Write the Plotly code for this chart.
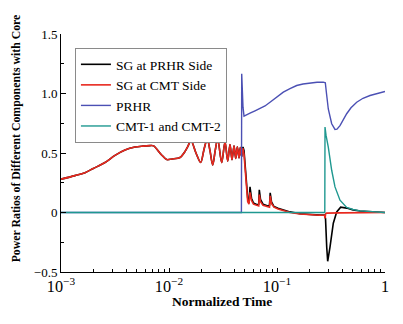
import plotly.graph_objects as go

# ---- data ----
# shared SG curve (both SG traces coincide) up to x ~ 0.048
sg_early_x = [0.001, 0.001348, 0.001668, 0.00199, 0.002556, 0.003162, 0.003914, 0.004844,
              0.005744, 0.00667, 0.007203, 0.008431, 0.009522, 0.01066, 0.01265, 0.01377,
              0.01484, 0.01599, 0.01778, 0.01965, 0.02109, 0.02262, 0.02396, 0.02538,
              0.02678, 0.02824, 0.03076, 0.03300, 0.03496, 0.03671, 0.03831, 0.04000,
              0.04147, 0.04291, 0.04449, 0.04574, 0.04712, 0.04814]
sg_early_y = [0.28, 0.31, 0.335, 0.37, 0.42, 0.48, 0.525, 0.55,
              0.558, 0.562, 0.56, 0.49, 0.445, 0.45, 0.462, 0.50,
              0.55, 0.603, 0.50, 0.42, 0.53, 0.62, 0.52, 0.40,
              0.52, 0.62, 0.42, 0.595, 0.432, 0.572, 0.443, 0.56,
              0.454, 0.552, 0.458, 0.545, 0.468, 0.54]

# SG at PRHR side after x ~ 0.048
prhr_sg_x = [0.04814, 0.04845, 0.04950, 0.05086, 0.05219, 0.05354, 0.05504, 0.05623,
             0.05806, 0.06059, 0.06529, 0.06771, 0.06857, 0.07035, 0.07420, 0.08254,
             0.08523, 0.08650, 0.08894, 0.09380, 0.1022, 0.1144, 0.1319, 0.1633,
             0.2021, 0.2501, 0.2754, 0.2813, 0.2886, 0.2947, 0.3095, 0.3321, 0.3570,
             0.3889, 0.4418, 0.5054, 0.5867, 0.7265, 1.0]
prhr_sg_y = [0.54, 0.55, 0.52, 0.40, 0.24, 0.12, 0.08, 0.216,
             0.12, 0.08, 0.065, 0.07, 0.19, 0.11, 0.07, 0.055,
             0.06, 0.166, 0.09, 0.05, 0.035, 0.02, 0.005, -0.01,
             -0.018, -0.022, -0.022, -0.05, -0.29, -0.41, -0.29, -0.09, 0.005,
             0.045, 0.037, 0.022, 0.012, 0.005, 0.0]

# SG at CMT side after x ~ 0.048
cmt_sg_x = [0.04814, 0.04950, 0.05086, 0.05219, 0.05354, 0.05504, 0.05623, 0.05806,
            0.06059, 0.06771, 0.06857, 0.07035, 0.07420, 0.08523, 0.08650, 0.08894,
            0.09380, 0.1022, 0.1144, 0.1319, 0.1633, 0.2021, 0.2501, 0.2754,
            0.2783, 0.2825, 0.2873, 0.3831, 0.5867, 1.0]
cmt_sg_y = [0.54, 0.49, 0.35, 0.18, 0.09, 0.07, 0.17, 0.10,
            0.07, 0.055, 0.15, 0.09, 0.06, 0.045, 0.14, 0.075,
            0.045, 0.03, 0.015, 0.0, -0.012, -0.02, -0.023, -0.023,
            -0.05, -0.01, -0.005, -0.003, 0.0, 0.0]

prhr_x = [0.001, 0.04683, 0.04712, 0.04794, 0.04845, 0.04950, 0.05164, 0.05623, 0.06256,
          0.06961, 0.07743, 0.08614, 0.09788, 0.1144, 0.1319, 0.1522, 0.1741, 0.2021,
          0.2347, 0.2684, 0.2801, 0.2873, 0.2985, 0.3209, 0.3443, 0.3593, 0.3831,
          0.4418, 0.4843, 0.5470, 0.6255, 0.7265, 0.8614, 1.0]
prhr_y = [0.0, 0.0, 1.165, 0.95, 0.885, 0.81, 0.82, 0.835, 0.855,
          0.877, 0.895, 0.927, 0.965, 1.011, 1.04, 1.067, 1.08, 1.09,
          1.095, 1.095, 1.09, 1.0, 0.87, 0.746, 0.698, 0.70, 0.73,
          0.83, 0.88, 0.927, 0.96, 0.983, 1.0, 1.017]

cmt_x = [0.001, 0.2771, 0.2783, 0.2843, 0.2985, 0.3209, 0.3443, 0.3831, 0.4418,
         0.5054, 0.5867, 0.7265, 1.0]
cmt_y = [0.0, 0.0, 0.718, 0.65, 0.55, 0.355, 0.215, 0.103, 0.042,
         0.025, 0.014, 0.006, 0.0]

names = ["SG at PRHR Side", "SG at CMT Side", "PRHR", "CMT-1 and CMT-2"]
colors = ["#000000", "#e8281e", "#4b50b4", "#1f9890"]

yticks = [-0.5, 0, 0.5, 1.0, 1.5]
yticktext = ["\u22120.5", "0", "0.5", "1.0", "1.5"]

FONT = "Liberation Serif, Times New Roman, serif"

fig = go.Figure()
# SG at PRHR side
fig.add_trace(go.Scatter(x=sg_early_x, y=sg_early_y, mode="lines", name=names[0],
                         legendgroup="a", showlegend=False,
                         line=dict(color=colors[0], width=1.6, shape="spline", smoothing=0.9)))
fig.add_trace(go.Scatter(x=prhr_sg_x, y=prhr_sg_y, mode="lines", name=names[0],
                         legendgroup="a", line=dict(color=colors[0], width=1.6)))
# SG at CMT side
fig.add_trace(go.Scatter(x=sg_early_x, y=sg_early_y, mode="lines", name=names[1],
                         legendgroup="b", showlegend=False,
                         line=dict(color=colors[1], width=1.6, shape="spline", smoothing=0.9)))
fig.add_trace(go.Scatter(x=cmt_sg_x, y=cmt_sg_y, mode="lines", name=names[1],
                         legendgroup="b", line=dict(color=colors[1], width=1.6)))
fig.add_trace(go.Scatter(x=prhr_x, y=prhr_y, mode="lines", name=names[2],
                         line=dict(color=colors[2], width=1.4)))
fig.add_trace(go.Scatter(x=cmt_x, y=cmt_y, mode="lines", name=names[3],
                         line=dict(color=colors[3], width=1.4)))

# the page body has an 8px default margin, so the figure is laid out 8px up/left
fig.update_layout(
    width=403, height=324,
    margin=dict(l=53, r=26, t=26, b=60),
    paper_bgcolor="white", plot_bgcolor="white",
    font=dict(family=FONT, size=13, color="#000000"),
    showlegend=True,
    legend=dict(x=0.043, y=0.941, xanchor="left", yanchor="top",
                bgcolor="white", bordercolor="#8a8a8a", borderwidth=1,
                font=dict(family=FONT, size=13.5, color="#000000"),
                tracegroupgap=0),
    xaxis=dict(type="log", range=[-3, 0], dtick=1, exponentformat="power",
               showexponent="all", showline=True, linecolor="#000000", linewidth=1,
               ticks="inside", ticklen=4, tickcolor="#000000", showgrid=False,
               zeroline=False, mirror=False,
               tickfont=dict(family=FONT, size=13, color="#000000"),
               minor=dict(ticks="inside", ticklen=3, tickcolor="#000000", dtick="D1",
                          showgrid=False)),
    yaxis=dict(range=[-0.5, 1.5], tickvals=yticks, ticktext=yticktext,
               showline=True, linecolor="#000000", linewidth=1,
               ticks="inside", ticklen=5, tickcolor="#000000", showgrid=False,
               zeroline=False,
               tickfont=dict(family=FONT, size=13, color="#000000"),
               minor=dict(ticks="inside", ticklen=3, tickcolor="#000000", dtick=0.25,
                          showgrid=False)),
    annotations=[
        dict(text="<b>Normalized Time</b>", xref="paper", yref="paper",
             x=0.496, y=-0.122, xanchor="center", yanchor="middle", showarrow=False,
             font=dict(family=FONT, size=13.5, color="#000000")),
        dict(text="<b>Power Ratios of Different Components with Core</b>",
             xref="paper", yref="paper", x=-0.14, y=0.56, textangle=-90,
             xanchor="center", yanchor="middle", showarrow=False,
             font=dict(family=FONT, size=11.8, color="#000000")),
    ],
)

fig.write_html("out.html")
